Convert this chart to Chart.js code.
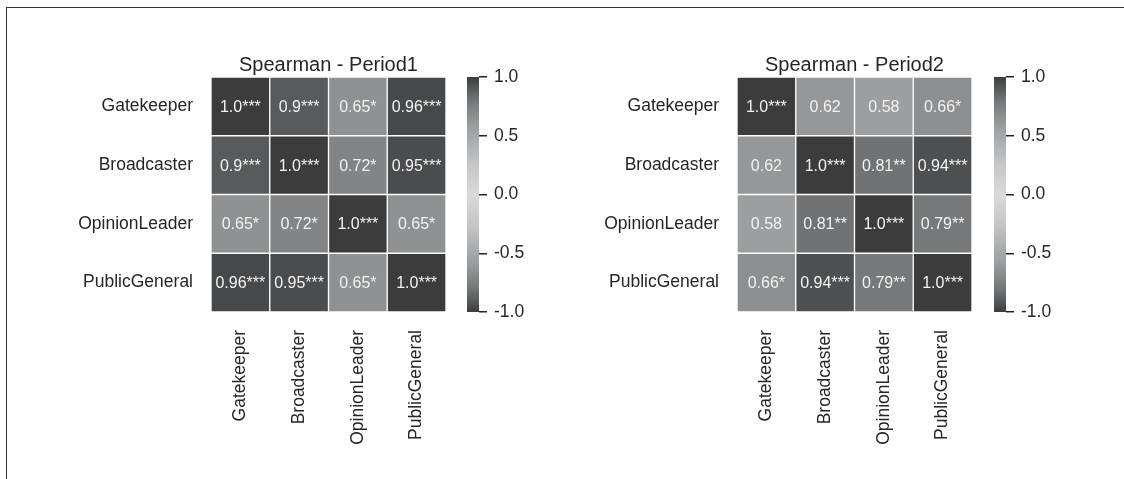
<!DOCTYPE html>
<html>
<head>
<meta charset="utf-8">
<script src="https://cdn.jsdelivr.net/npm/chart.js@4.4.1/dist/chart.umd.min.js"></script>
<style>
  html, body { margin: 0; padding: 0; background: #ffffff; }
  #stage { position: relative; width: 1124px; height: 479px; overflow: hidden; background: #ffffff; }
  #frame { position: absolute; left: 6px; top: 7px; width: 1130px; height: 480px;
           border-top: 1.5px solid #333333; border-left: 1.5px solid #333333; }
  canvas { position: absolute; top: 0; }
</style>
</head>
<body>
<div id="stage">
  <div id="frame"></div>
  <canvas id="hm1" width="446" height="479" style="left:0px"></canvas>
  <canvas id="cb1" width="80" height="479" style="left:460px"></canvas>
  <canvas id="hm2" width="442" height="479" style="left:530px"></canvas>
  <canvas id="cb2" width="80" height="479" style="left:987px"></canvas>
</div>
<script>
// Roles compared in both periods (rows top to bottom, columns left to right)
const roles = ['Gatekeeper', 'Broadcaster', 'OpinionLeader', 'PublicGeneral'];

// Spearman correlations, period 1
const period1Values = [
  [1.0, 0.9, 0.65, 0.96],
  [0.9, 1.0, 0.72, 0.95],
  [0.65, 0.72, 1.0, 0.65],
  [0.96, 0.95, 0.65, 1.0]
];
const period1Stars = [
  ['***', '***', '*', '***'],
  ['***', '***', '*', '***'],
  ['*', '*', '***', '*'],
  ['***', '***', '*', '***']
];

// Spearman correlations, period 2
const period2Values = [
  [1.0, 0.62, 0.58, 0.66],
  [0.62, 1.0, 0.81, 0.94],
  [0.58, 0.81, 1.0, 0.79],
  [0.66, 0.94, 0.79, 1.0]
];
const period2Stars = [
  ['***', '', '', '*'],
  ['', '***', '**', '***'],
  ['', '**', '***', '**'],
  ['*', '***', '**', '***']
];

const panelTitles = ['Spearman - Period1', 'Spearman - Period2'];
const colorbarTicks = [-1.0, -0.5, 0.0, 0.5, 1.0];

// ---- styling ----
const FONT = "'Liberation Sans', Arial, Helvetica, sans-serif";
const TEXT = '#262626';
// grey level by |r|: light at 0, dark at +/-1
const GREY_RAMP = [
  [0.00, 217], [0.25, 198], [0.50, 166], [0.58, 157], [0.62, 150],
  [0.65, 144], [0.72, 131], [0.79, 119], [0.81, 113], [0.90, 89],
  [0.94, 78], [0.96, 71], [1.00, 59]
];

function greyFor(v) {
  const a = Math.min(1, Math.abs(v));
  let g = GREY_RAMP[GREY_RAMP.length - 1][1];
  for (let i = 1; i < GREY_RAMP.length; i++) {
    const [x0, g0] = GREY_RAMP[i - 1], [x1, g1] = GREY_RAMP[i];
    if (a <= x1) { g = g0 + (g1 - g0) * (a - x0) / (x1 - x0); break; }
  }
  g = Math.round(g);
  const tint = (a > 0.3 && a < 0.98) ? 2 : 0;
  return `rgb(${g},${g + 1},${g + tint})`;
}

function fmt(v) {
  return Number.isInteger(v) ? v.toFixed(1) : String(v);
}

// keep the plot area exactly where the layout puts it
function noScalePadding(s) {
  s.paddingLeft = 0; s.paddingRight = 0; s.paddingTop = 0; s.paddingBottom = 0;
}

Chart.defaults.font.family = FONT;
Chart.defaults.color = TEXT;

const titlePlugin = {
  id: 'panelTitle',
  afterDraw(chart, args, opts) {
    if (!opts.text) return;
    const { ctx, chartArea: a } = chart;
    ctx.save();
    ctx.font = `20px ${FONT}`;
    ctx.fillStyle = TEXT;
    ctx.textAlign = 'center';
    ctx.textBaseline = 'alphabetic';
    ctx.fillText(opts.text, (a.left + a.right) / 2, a.top - 6);
    ctx.restore();
  }
};

const cellTextPlugin = {
  id: 'cellText',
  afterDatasetsDraw(chart, args, opts) {
    if (!opts.values) return;
    const { ctx } = chart;
    const meta = chart.getDatasetMeta(0);
    const n = opts.values[0].length;
    ctx.save();
    ctx.font = `16px ${FONT}`;
    ctx.fillStyle = '#f2f2f2';
    ctx.textAlign = 'center';
    ctx.textBaseline = 'middle';
    meta.data.forEach((bar, i) => {
      const r = Math.floor(i / n), c = i % n;
      const label = fmt(opts.values[r][c]) + opts.stars[r][c];
      ctx.fillText(label, bar.x, (bar.y + bar.base) / 2 + 1);
    });
    ctx.restore();
  }
};

function makeHeatmap(id, values, stars, title, axisWidth) {
  const points = [], colors = [];
  values.forEach((row, r) => row.forEach((v, c) => {
    points.push({ x: roles[c], y: [r, r + 1] });
    colors.push(greyFor(v));
  }));
  return new Chart(document.getElementById(id), {
    type: 'bar',
    data: {
      labels: roles,
      datasets: [{
        data: points,
        backgroundColor: colors,
        borderColor: '#ffffff',
        borderWidth: 1,
        borderSkipped: false,
        barPercentage: 1,
        categoryPercentage: 1
      }]
    },
    options: {
      responsive: false,
      animation: false,
      devicePixelRatio: 1,
      events: [],
      layout: { padding: { top: 77, left: 0, right: 0, bottom: 0 }, autoPadding: false },
      plugins: {
        legend: { display: false },
        tooltip: { enabled: false },
        panelTitle: { text: title },
        cellText: { values, stars }
      },
      scales: {
        x: {
          type: 'category',
          offset: true,
          grid: { display: false, drawTicks: false },
          border: { display: false },
          ticks: { minRotation: 90, maxRotation: 90, padding: 18, font: { size: 17.5 }, color: TEXT },
          afterFit(s) { s.height = 167; noScalePadding(s); }
        },
        y: {
          type: 'linear',
          min: 0,
          max: roles.length,
          reverse: true,
          grid: { display: false, drawTicks: false },
          border: { display: false },
          afterBuildTicks(s) { s.ticks = roles.map((_, i) => ({ value: i + 0.5 })); },
          ticks: { padding: 18, font: { size: 17.5 }, color: TEXT, callback: v => roles[Math.floor(v)] },
          afterFit(s) { s.width = axisWidth; noScalePadding(s); }
        }
      }
    },
    plugins: [titlePlugin, cellTextPlugin]
  });
}

function colorbarFill(chart) {
  const y = chart.scales.y;
  if (!y || !chart.chartArea) return greyFor(0);
  const lo = colorbarTicks[0], hi = colorbarTicks[colorbarTicks.length - 1];
  const g = chart.ctx.createLinearGradient(0, y.getPixelForValue(lo), 0, y.getPixelForValue(hi));
  const steps = 60;
  for (let k = 0; k <= steps; k++) {
    const v = lo + (hi - lo) * k / steps;
    g.addColorStop(k / steps, greyFor(v));
  }
  return g;
}

function makeColorbar(id) {
  const lo = colorbarTicks[0], hi = colorbarTicks[colorbarTicks.length - 1];
  return new Chart(document.getElementById(id), {
    type: 'bar',
    data: {
      labels: ['r'],
      datasets: [{
        data: [[lo, hi]],
        backgroundColor: ctx => colorbarFill(ctx.chart),
        borderWidth: 0,
        barPercentage: 1,
        categoryPercentage: 1
      }]
    },
    options: {
      responsive: false,
      animation: false,
      devicePixelRatio: 1,
      events: [],
      layout: { padding: { top: 77, left: 7, right: 0, bottom: 167 }, autoPadding: false },
      plugins: { legend: { display: false }, tooltip: { enabled: false } },
      scales: {
        x: { display: false, offset: true },
        y: {
          type: 'linear',
          position: 'right',
          min: lo,
          max: hi,
          grid: { display: true, drawOnChartArea: false, drawTicks: true, tickLength: 8, color: '#222222', lineWidth: 1.5 },
          border: { display: false },
          afterBuildTicks(s) { s.ticks = colorbarTicks.map(v => ({ value: v })); },
          ticks: { padding: 7, font: { size: 17.5 }, color: TEXT, callback: v => v.toFixed(1) },
          afterFit(s) { s.width = 61; noScalePadding(s); }
        }
      }
    }
  });
}

makeHeatmap('hm1', period1Values, period1Stars, panelTitles[0], 211);
makeColorbar('cb1');
makeHeatmap('hm2', period2Values, period2Stars, panelTitles[1], 207);
makeColorbar('cb2');
</script>
</body>
</html>
